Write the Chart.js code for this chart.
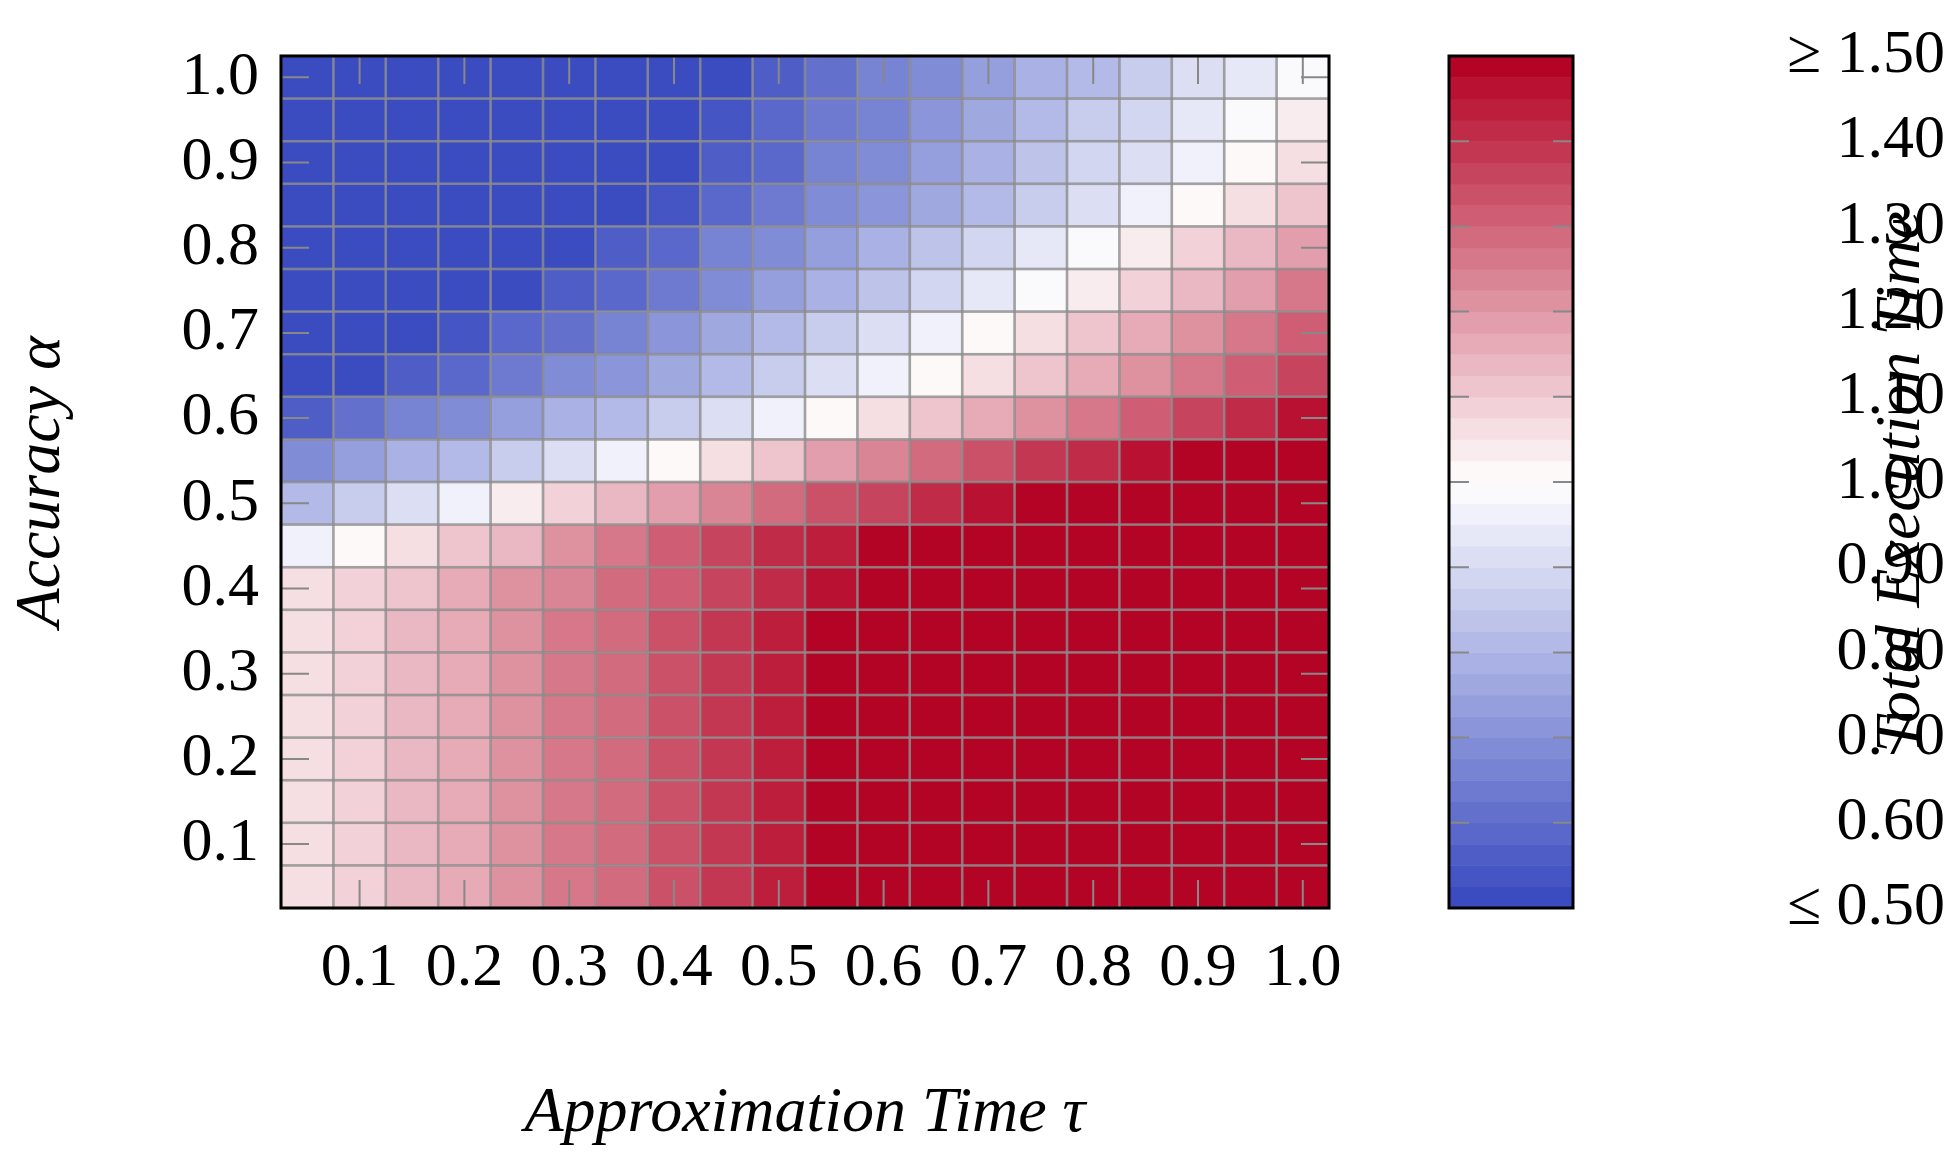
<!DOCTYPE html>
<html>
<head>
<meta charset="utf-8">
<script src="https://cdn.jsdelivr.net/npm/chart.js@4"></script>
<style>
  html, body { margin: 0; padding: 0; background: #fff; }
  #wrap { position: relative; width: 1945px; height: 1157px; }
  #heat { position: absolute; left: 0; top: 0; }
  #bar { position: absolute; left: 1420px; top: 0; }
</style>
</head>
<body>
<div id="wrap">
  <canvas id="heat" width="1400" height="1157"></canvas>
  <canvas id="bar" width="525" height="1157"></canvas>
</div>
<script>
// tau values (columns) and alpha values (rows)
const tau = [0.05,0.10,0.15,0.20,0.25,0.30,0.35,0.40,0.45,0.50,0.55,0.60,0.65,0.70,0.75,0.80,0.85,0.90,0.95,1.00];
const alpha = [1.00,0.95,0.90,0.85,0.80,0.75,0.70,0.65,0.60,0.55,0.50,0.45,0.40,0.35,0.30,0.25,0.20,0.15,0.10,0.05];
const xTickLabels = [0.1,0.2,0.3,0.4,0.5,0.6,0.7,0.8,0.9,1.0];
const yTickLabels = [0.1,0.2,0.3,0.4,0.5,0.6,0.7,0.8,0.9,1.0];
const barTicks = [0.5,0.6,0.7,0.8,0.9,1.0,1.1,1.2,1.3,1.4,1.5];

// total execution time, one row per alpha (top to bottom)
const row100 = [0.50,0.50,0.50,0.50,0.50,0.50,0.50,0.50,0.52,0.57,0.62,0.66,0.70,0.74,0.78,0.82,0.86,0.90,0.94,0.99];
const row095 = [0.50,0.50,0.50,0.50,0.50,0.50,0.50,0.50,0.53,0.58,0.63,0.67,0.72,0.76,0.80,0.85,0.89,0.93,0.98,1.03];
const row090 = [0.50,0.50,0.50,0.50,0.50,0.50,0.50,0.51,0.55,0.60,0.65,0.69,0.74,0.78,0.83,0.88,0.92,0.96,1.02,1.07];
const row085 = [0.50,0.50,0.50,0.50,0.50,0.50,0.51,0.54,0.58,0.63,0.68,0.72,0.77,0.82,0.86,0.91,0.96,1.01,1.06,1.11];
const row080 = [0.50,0.50,0.50,0.50,0.50,0.52,0.56,0.60,0.65,0.69,0.74,0.79,0.84,0.89,0.94,0.99,1.04,1.09,1.14,1.19];
const row075 = [0.50,0.50,0.50,0.50,0.51,0.55,0.59,0.64,0.69,0.74,0.79,0.84,0.89,0.94,0.99,1.04,1.09,1.14,1.19,1.25];
const row070 = [0.50,0.50,0.51,0.54,0.58,0.62,0.67,0.72,0.77,0.82,0.87,0.92,0.97,1.00,1.06,1.11,1.16,1.21,1.26,1.31];
const row065 = [0.50,0.52,0.56,0.60,0.64,0.68,0.72,0.77,0.82,0.87,0.92,0.97,1.02,1.07,1.12,1.17,1.22,1.27,1.32,1.37];
const row060 = [0.57,0.62,0.66,0.70,0.74,0.78,0.82,0.86,0.91,0.96,1.00,1.06,1.11,1.16,1.21,1.26,1.31,1.36,1.41,1.45];
const row055 = [0.70,0.74,0.78,0.82,0.86,0.90,0.96,1.02,1.07,1.12,1.18,1.23,1.28,1.33,1.38,1.42,1.46,1.50,1.50,1.50];
const row050 = [0.82,0.86,0.91,0.97,1.03,1.08,1.13,1.18,1.23,1.28,1.33,1.37,1.41,1.45,1.48,1.50,1.50,1.50,1.50,1.50];
const row045 = [0.96,1.00,1.05,1.10,1.15,1.20,1.25,1.30,1.35,1.40,1.44,1.48,1.50,1.50,1.50,1.50,1.50,1.50,1.50,1.50];
const row040 = [1.06,1.08,1.12,1.16,1.20,1.24,1.28,1.32,1.37,1.42,1.47,1.50,1.50,1.50,1.50,1.50,1.50,1.50,1.50,1.50];
const row035 = [1.07,1.09,1.13,1.17,1.21,1.25,1.29,1.33,1.38,1.43,1.48,1.50,1.50,1.50,1.50,1.50,1.50,1.50,1.50,1.50];
const row030 = [1.07,1.09,1.13,1.17,1.21,1.25,1.29,1.33,1.38,1.43,1.48,1.50,1.50,1.50,1.50,1.50,1.50,1.50,1.50,1.50];
const row025 = [1.07,1.09,1.13,1.17,1.21,1.25,1.29,1.33,1.38,1.43,1.48,1.50,1.50,1.50,1.50,1.50,1.50,1.50,1.50,1.50];
const row020 = [1.07,1.09,1.13,1.17,1.21,1.25,1.29,1.33,1.38,1.43,1.48,1.50,1.50,1.50,1.50,1.50,1.50,1.50,1.50,1.50];
const row015 = [1.07,1.09,1.13,1.17,1.21,1.25,1.29,1.33,1.38,1.43,1.48,1.50,1.50,1.50,1.50,1.50,1.50,1.50,1.50,1.50];
const row010 = [1.07,1.09,1.13,1.17,1.21,1.25,1.29,1.33,1.38,1.43,1.48,1.50,1.50,1.50,1.50,1.50,1.50,1.50,1.50,1.50];
const row005 = [1.07,1.09,1.13,1.17,1.21,1.25,1.29,1.33,1.38,1.43,1.48,1.50,1.50,1.50,1.50,1.50,1.50,1.50,1.50,1.50];
const rows = [row100,row095,row090,row085,row080,row075,row070,row065,row060,row055,
              row050,row045,row040,row035,row030,row025,row020,row015,row010,row005];

const FONT = "'Liberation Serif', 'DejaVu Serif', serif";
const LEVELS = 40;

// blue -> white -> red, quantized like the colorbar
function colorFor(v) {
  let t = Math.min(1, Math.max(0, (v - 0.5) / 1.0));
  t = Math.min(LEVELS - 1, Math.floor(t * LEVELS)) / (LEVELS - 1);
  const blue = [59, 76, 192], white = [255, 255, 255], red = [180, 4, 38];
  let a, b, f;
  if (t < 0.5) { a = blue; b = white; f = t / 0.5; }
  else { a = white; b = red; f = (t - 0.5) / 0.5; }
  const c = a.map((x, i) => Math.round(x + (b[i] - x) * f));
  return `rgb(${c[0]},${c[1]},${c[2]})`;
}

const cells = [];
alpha.forEach((a, r) => tau.forEach((t, c) => cells.push({ x: t, y: a, v: rows[r][c] })));

const heatPlugin = {
  id: 'heat',
  beforeDatasetsDraw(chart) {
    const { ctx, scales: { x, y }, chartArea } = chart;
    const meta = chart.getDatasetMeta(0);
    ctx.save();
    cells.forEach(d => {
      const x0 = x.getPixelForValue(d.x - 0.025), x1 = x.getPixelForValue(d.x + 0.025);
      const y0 = y.getPixelForValue(d.y + 0.025), y1 = y.getPixelForValue(d.y - 0.025);
      ctx.fillStyle = colorFor(d.v);
      ctx.fillRect(x0, y0, x1 - x0, y1 - y0);
    });
    ctx.strokeStyle = 'rgba(140,140,140,0.55)';
    ctx.lineWidth = 2.5;
    cells.forEach(d => {
      const x0 = x.getPixelForValue(d.x - 0.025), x1 = x.getPixelForValue(d.x + 0.025);
      const y0 = y.getPixelForValue(d.y + 0.025), y1 = y.getPixelForValue(d.y - 0.025);
      ctx.strokeRect(x0, y0, x1 - x0, y1 - y0);
    });
    // inner tick marks
    ctx.strokeStyle = '#888';
    ctx.lineWidth = 2;
    xTickLabels.forEach(v => {
      const px = x.getPixelForValue(v);
      ctx.beginPath();
      ctx.moveTo(px, chartArea.bottom); ctx.lineTo(px, chartArea.bottom - 28);
      ctx.moveTo(px, chartArea.top); ctx.lineTo(px, chartArea.top + 28);
      ctx.stroke();
    });
    yTickLabels.forEach(v => {
      const py = y.getPixelForValue(v);
      ctx.beginPath();
      ctx.moveTo(chartArea.left, py); ctx.lineTo(chartArea.left + 28, py);
      ctx.moveTo(chartArea.right, py); ctx.lineTo(chartArea.right - 28, py);
      ctx.stroke();
    });
    ctx.strokeStyle = '#000';
    ctx.lineWidth = 3;
    ctx.strokeRect(chartArea.left, chartArea.top, chartArea.right - chartArea.left, chartArea.bottom - chartArea.top);
    ctx.restore();
  }
};

new Chart(document.getElementById('heat'), {
  type: 'scatter',
  data: { datasets: [{ data: cells.map(d => ({ x: d.x, y: d.y })), pointRadius: 0 }] },
  options: {
    responsive: false,
    animation: false,
    layout: { padding: { top: 56, right: 71, left: 0, bottom: 0 } },
    plugins: { legend: { display: false }, tooltip: { enabled: false } },
    scales: {
      x: {
        type: 'linear', min: 0.025, max: 1.025,
        afterBuildTicks: s => { s.ticks = xTickLabels.map(v => ({ value: v })); },
        afterFit: s => { s.height = 249; },
        grid: { display: false }, border: { display: false },
        ticks: { color: '#000', padding: 16, maxRotation: 0, autoSkip: false,
                 font: { family: FONT, size: 62 }, callback: v => v.toFixed(1) },
        title: { display: true, text: 'Approximation Time τ', color: '#000', padding: { top: 40 },
                 font: { family: FONT, size: 64, style: 'italic' } }
      },
      y: {
        type: 'linear', min: 0.025, max: 1.025,
        afterBuildTicks: s => { s.ticks = yTickLabels.map(v => ({ value: v })); },
        afterFit: s => { s.width = 281; },
        grid: { display: false }, border: { display: false },
        ticks: { color: '#000', padding: 14, autoSkip: false,
                 font: { family: FONT, size: 62 }, callback: v => v.toFixed(1) },
        title: { display: true, text: 'Accuracy α', color: '#000', padding: { bottom: 20 },
                 font: { family: FONT, size: 64, style: 'italic' } }
      }
    }
  },
  plugins: [heatPlugin]
});

const barPlugin = {
  id: 'cbar',
  beforeDatasetsDraw(chart) {
    const { ctx, scales: { y }, chartArea } = chart;
    ctx.save();
    for (let i = 0; i < LEVELS; i++) {
      const lo = 0.5 + i / LEVELS, hi = 0.5 + (i + 1) / LEVELS;
      const y0 = y.getPixelForValue(hi), y1 = y.getPixelForValue(lo);
      ctx.fillStyle = colorFor(lo + 0.001);
      ctx.fillRect(chartArea.left, y0, chartArea.right - chartArea.left, y1 - y0 + 0.5);
    }
    ctx.strokeStyle = '#888';
    ctx.lineWidth = 2;
    barTicks.forEach(v => {
      const py = y.getPixelForValue(v);
      ctx.beginPath();
      ctx.moveTo(chartArea.left, py); ctx.lineTo(chartArea.left + 20, py);
      ctx.moveTo(chartArea.right, py); ctx.lineTo(chartArea.right - 20, py);
      ctx.stroke();
    });
    ctx.strokeStyle = '#000';
    ctx.lineWidth = 3;
    ctx.strokeRect(chartArea.left, chartArea.top, chartArea.right - chartArea.left, chartArea.bottom - chartArea.top);
    // colorbar title, read bottom to top
    ctx.fillStyle = '#000';
    ctx.font = `italic 64px ${FONT}`;
    ctx.textAlign = 'center';
    ctx.textBaseline = 'middle';
    ctx.translate(482, (chartArea.top + chartArea.bottom) / 2);
    ctx.rotate(-Math.PI / 2);
    ctx.fillText('Total Execution Time', 0, 0);
    ctx.restore();
  }
};

new Chart(document.getElementById('bar'), {
  type: 'scatter',
  data: { datasets: [{ data: [], pointRadius: 0 }] },
  options: {
    responsive: false,
    animation: false,
    layout: { padding: { top: 56, bottom: 249, left: 29, right: 0 } },
    plugins: { legend: { display: false }, tooltip: { enabled: false } },
    scales: {
      x: { display: false, min: 0, max: 1 },
      y: {
        position: 'right', min: 0.5, max: 1.5,
        afterBuildTicks: s => { s.ticks = barTicks.map(v => ({ value: v })); },
        afterFit: s => { s.width = 372; },
        grid: { display: false }, border: { display: false },
        ticks: { color: '#000', padding: 0, crossAlign: 'far', autoSkip: false,
                 font: { family: FONT, size: 62 },
                 callback: v => v === 0.5 ? '≤ 0.50' : v === 1.5 ? '≥ 1.50' : v.toFixed(2) }
      }
    }
  },
  plugins: [barPlugin]
});
</script>
</body>
</html>
